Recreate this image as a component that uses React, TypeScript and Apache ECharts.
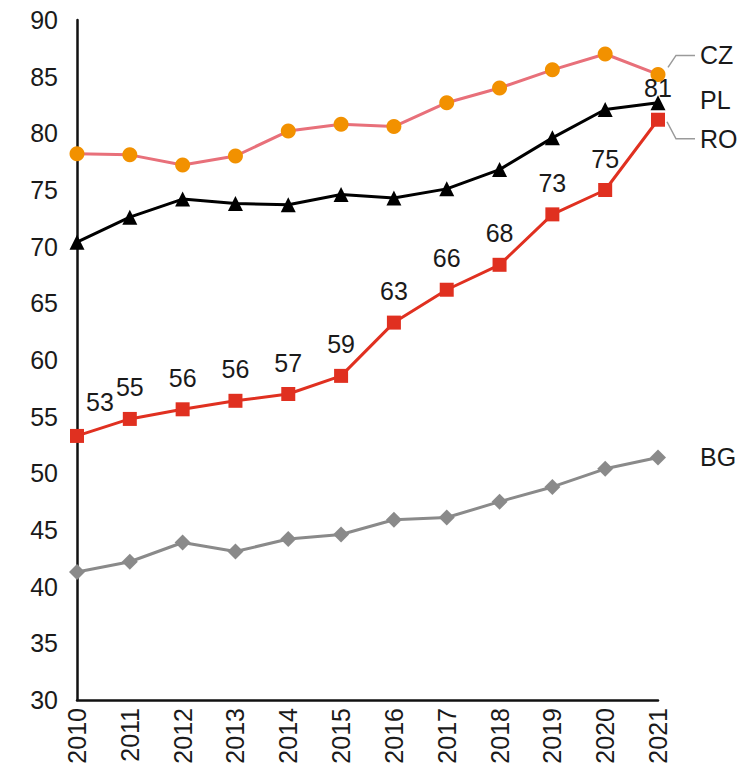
import React, { useEffect, useRef } from "react";
import * as echarts from "echarts";

const years = ["2010", "2011", "2012", "2013", "2014", "2015", "2016", "2017", "2018", "2019", "2020", "2021"];
const czValues = [78.2, 78.1, 77.2, 78.0, 80.2, 80.8, 80.6, 82.7, 84.0, 85.6, 87.0, 85.2];
const plValues = [70.4, 72.6, 74.2, 73.8, 73.7, 74.6, 74.3, 75.1, 76.8, 79.6, 82.1, 82.7];
const roValues = [53.3, 54.8, 55.65, 56.4, 57.0, 58.6, 63.3, 66.2, 68.4, 72.85, 75.0, 81.2];
const bgValues = [41.3, 42.2, 43.9, 43.1, 44.2, 44.6, 45.9, 46.1, 47.5, 48.8, 50.4, 51.4];
const seriesNames = ["CZ", "PL", "RO", "BG"];
const yTicks = { min: 30, max: 90, interval: 5 };

const FONT = "Liberation Sans, Arial, sans-serif";
const TEXT = "#1a1a1a";

export default function App() {
  const ref = useRef<HTMLDivElement>(null);
  useEffect(() => {
    document.body.style.margin = "0";
    if (!ref.current) return;
    const chart = echarts.init(ref.current, undefined, { renderer: "svg" });
    const option: any = {
      animation: false,
      textStyle: { fontFamily: FONT },
      grid: { left: 77, right: 98, top: 20, bottom: 71, containLabel: false },
      xAxis: {
        type: "category",
        data: years,
        boundaryGap: false,
        axisLine: { show: true, lineStyle: { color: "#111", width: 2.5 } },
        axisTick: { show: false },
        axisLabel: { rotate: 90, fontSize: 25, color: TEXT, margin: 8, fontFamily: FONT },
        splitLine: { show: false },
      },
      yAxis: {
        type: "value",
        min: yTicks.min,
        max: yTicks.max,
        interval: yTicks.interval,
        axisLine: { show: true, lineStyle: { color: "#111", width: 2.5 } },
        axisTick: { show: false },
        axisLabel: { fontSize: 25, color: TEXT, margin: 19, fontFamily: FONT },
        splitLine: { show: false },
      },
      series: [
        {
          name: seriesNames[0],
          type: "line",
          data: czValues,
          symbol: "circle",
          symbolSize: 15,
          lineStyle: { color: "#e8707a", width: 3 },
          itemStyle: { color: "#f29100", borderWidth: 0 },
          z: 2,
        },
        {
          name: seriesNames[1],
          type: "line",
          data: plValues,
          symbol: "triangle",
          symbolSize: 15,
          lineStyle: { color: "#000", width: 3 },
          itemStyle: { color: "#000", borderWidth: 0 },
          z: 3,
        },
        {
          name: seriesNames[2],
          type: "line",
          data: roValues.map((v, i) =>
            i === 0
              ? { value: v, label: { offset: [23, -2] } }
              : { value: v }
          ),
          symbol: "rect",
          symbolSize: 14,
          lineStyle: { color: "#e03020", width: 3 },
          itemStyle: { color: "#e03020", borderWidth: 0 },
          label: {
            show: true,
            position: "top",
            distance: 12,
            fontSize: 25,
            color: TEXT,
            fontFamily: FONT,
            formatter: (p: any) => String(Math.round(p.value)),
          },
          z: 4,
        },
        {
          name: seriesNames[3],
          type: "line",
          data: bgValues,
          symbol: "diamond",
          symbolSize: [16, 16],
          lineStyle: { color: "#8a8a8a", width: 3 },
          itemStyle: { color: "#8a8a8a", borderWidth: 0 },
          z: 1,
        },
      ],
    };
    chart.setOption(option);

    const last = years.length - 1;
    const pt = (vals: number[]) => chart.convertToPixel({ gridIndex: 0 }, [last, vals[last]]) as number[];
    const cz = pt(czValues);
    const pl = pt(plValues);
    const ro = pt(roValues);
    const bg = pt(bgValues);
    const labelDx = 42;
    const lineStyle = { stroke: "#9a9a9a", lineWidth: 1.5, fill: null };
    const mkText = (name: string, p: number[], dy: number) => ({
      type: "text",
      x: p[0] + labelDx,
      y: p[1] + dy,
      style: {
        text: name,
        fontSize: 25,
        fontFamily: FONT,
        fill: TEXT,
        verticalAlign: "middle",
        align: "left",
      },
      z: 10,
    });
    chart.setOption({
      graphic: [
        {
          type: "polyline",
          shape: { points: [[cz[0] + 10, cz[1] - 7], [cz[0] + 18, cz[1] - 19], [cz[0] + 37, cz[1] - 19]] },
          style: lineStyle,
          z: 10,
        },
        {
          type: "polyline",
          shape: { points: [[ro[0] + 9, ro[1] + 2], [ro[0] + 18, ro[1] + 19], [ro[0] + 37, ro[1] + 19]] },
          style: lineStyle,
          z: 10,
        },
        mkText(seriesNames[0], cz, -19),
        mkText(seriesNames[1], pl, -3),
        mkText(seriesNames[2], ro, 19),
        mkText(seriesNames[3], bg, 0),
      ],
    });

    return () => chart.dispose();
  }, []);
  return <div ref={ref} style={{ width: 756, height: 771 }} />;
}
